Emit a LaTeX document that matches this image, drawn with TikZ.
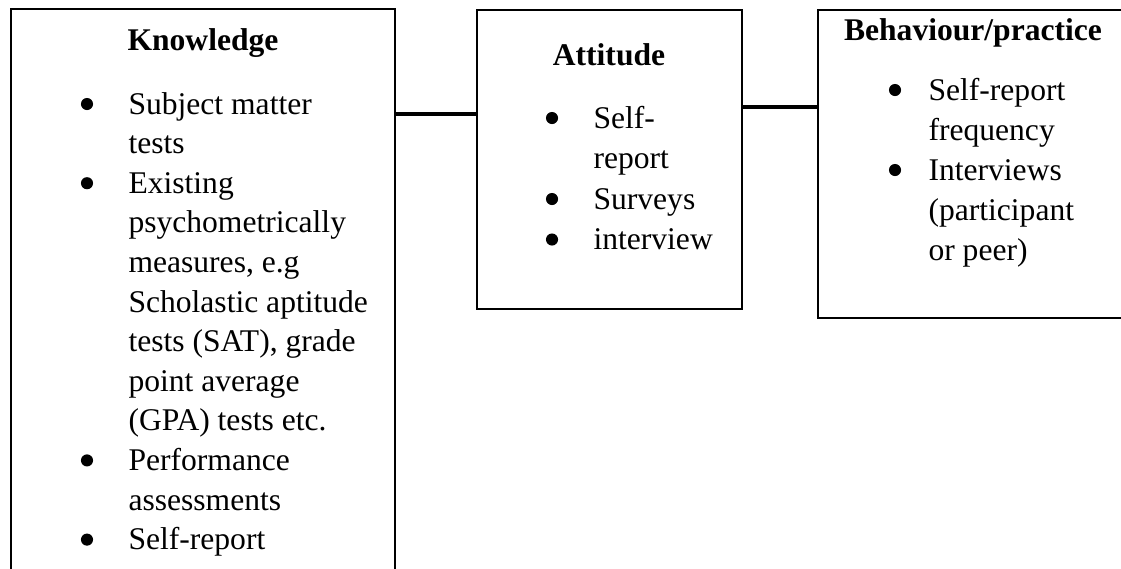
\documentclass[tikz,border=0pt]{standalone}
\usepackage{fontspec}
\setmainfont{Liberation Serif}
\usetikzlibrary{fit}
\begin{document}
\begin{tikzpicture}[x=0.38pt,y=-0.38pt,
  box/.style={draw,line width=0.8pt,inner sep=0pt},
  link/.style={line width=1.15pt},
  title/.style={anchor=base,inner sep=0pt,font=\fontsize{12}{14}\selectfont\bfseries},
  item/.style={anchor=base west,inner sep=0pt,font=\fontsize{12}{14}\selectfont},
  dot/.style={circle,fill,inner sep=0pt,minimum size=4.6pt}]
  \clip (0,0) rectangle (1121,568);
  \fill[white] (0,0) rectangle (1121,568);

  % boxes
  \node[box,fit={(11,9)(395,620)}] (know) {};
  \node[box,fit={(477,10)(742,309)}] (att) {};
  \node[box,fit={(818,10)(1140,318)}] (beh) {};

  % connectors
  \draw[link] (know.east |- 0,114) -- (att.west |- 0,114);
  \draw[link] (att.east |- 0,107) -- (beh.west |- 0,107);

  % Knowledge
  \node[title] (kt) at (203,50) {Knowledge};
  \node[dot] (kb1) at (87,104) {};
  \node[item] (k1) at (128,114) {Subject matter};
  \node[item] (k2) at (128,153.6) {tests};
  \node[dot] (kb2) at (87,183.2) {};
  \node[item] (k3) at (128,193.2) {Existing};
  \node[item] (k4) at (128,232.8) {psychometrically};
  \node[item] (k5) at (128,272.4) {measures, e.g};
  \node[item] (k6) at (128,312) {Scholastic aptitude};
  \node[item] (k7) at (128,351.6) {tests (SAT), grade};
  \node[item] (k8) at (128,391.2) {point average};
  \node[item] (k9) at (128,430.8) {(GPA) tests etc.};
  \node[dot] (kb3) at (87,460.4) {};
  \node[item] (k10) at (128,470.4) {Performance};
  \node[item] (k11) at (128,510) {assessments};
  \node[dot] (kb4) at (87,539.6) {};
  \node[item] (k12) at (128,549.6) {Self-report};

  % Attitude
  \node[title] (at) at (609,65) {Attitude};
  \node[dot] (ab1) at (552,118) {};
  \node[item] (a1) at (593,128) {Self-};
  \node[item] (a2) at (593,168.5) {report};
  \node[dot] (ab2) at (552,199) {};
  \node[item] (a3) at (593,209) {Surveys};
  \node[dot] (ab3) at (552,239.5) {};
  \node[item] (a4) at (593,249.5) {interview};

  % Behaviour/practice
  \node[title] (bt) at (973,40) {Behaviour/practice};
  \node[dot] (bb1) at (895,90) {};
  \node[item] (b1) at (928,100) {Self-report};
  \node[item] (b2) at (928,140) {frequency};
  \node[dot] (bb2) at (895,170) {};
  \node[item] (b3) at (928,180) {Interviews};
  \node[item] (b4) at (928,220) {(participant};
  \node[item] (b5) at (928,260) {or peer)};
\end{tikzpicture}
\end{document}
